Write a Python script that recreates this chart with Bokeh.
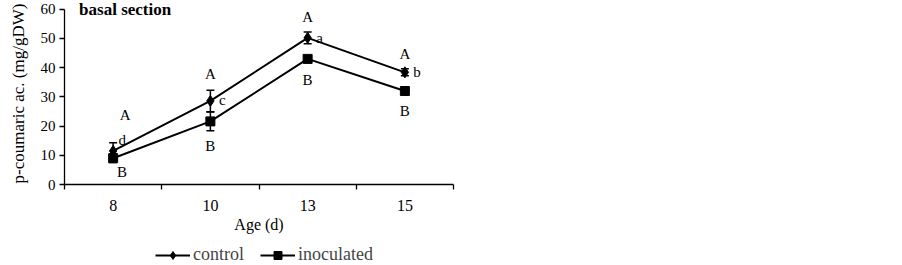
from bokeh.plotting import figure
from bokeh.layouts import column
from bokeh.models import (FixedTicker, Whisker, TeeHead, ColumnDataSource, Legend,
                          LegendItem, CustomJSTickFormatter, Range1d, Label)
from bokeh.core.properties import value
from bokeh.embed import file_html
from bokeh.resources import INLINE

# ---- data ----
ages = ["8", "10", "13", "15"]
control = [11.5, 28.6, 50.2, 38.4]
control_err = [2.8, 3.7, 2.0, 1.2]
inoculated = [9.0, 21.6, 43.0, 32.0]
inoculated_err = [1.5, 3.2, 1.0, 0.8]
upper_letters = ["A", "A", "A", "A"]
lower_letters = ["B", "B", "B", "B"]
age_letters = ["d", "c", "a", "b"]
series_names = ["control", "inoculated"]
y_ticks = [0, 10, 20, 30, 40, 50, 60]

# ---- label offsets (pixels) ----
upper_dx = [12, 0, 0, 0]
upper_dy = [-36, -27, -21, -18]
age_dx = [9, 12, 12, 12]
age_dy = [-11, -1, 0, 0]
lower_dx = [9, 0, 0, 0]
lower_dy = [14, 25, 21, 20]

FONT = "Liberation Serif"

xs = [i + 0.5 for i in range(len(ages))]
src_c = ColumnDataSource(dict(
    x=xs, y=control,
    upper=[v + e for v, e in zip(control, control_err)],
    lower=[v - e for v, e in zip(control, control_err)],
    ta=upper_letters, tb=age_letters,
    adx=upper_dx, ady=upper_dy, bdx=age_dx, bdy=age_dy))
src_i = ColumnDataSource(dict(
    x=xs, y=inoculated,
    upper=[v + e for v, e in zip(inoculated, inoculated_err)],
    lower=[v - e for v, e in zip(inoculated, inoculated_err)],
    tl=lower_letters, ldx=lower_dx, ldy=lower_dy))

y_max = y_ticks[-1]
p = figure(width=468, height=235, output_backend="svg", toolbar_location=None,
           x_range=Range1d(0, len(ages)), y_range=Range1d(0, y_max + 2.3),
           min_border_left=64, min_border_right=15, min_border_top=2, min_border_bottom=50)
p.outline_line_color = None
p.xgrid.visible = False
p.ygrid.visible = False
p.background_fill_color = None
p.border_fill_color = "white"

# axes
p.yaxis.ticker = FixedTicker(ticks=y_ticks)
p.yaxis.bounds = (0, y_max)
p.yaxis.major_tick_out = 5
p.yaxis.major_tick_in = 0
p.yaxis.minor_tick_out = 0
p.yaxis.minor_tick_in = 0
p.yaxis.axis_label = "p-coumaric ac. (mg/gDW)"
p.yaxis.axis_label_text_font = FONT
p.yaxis.axis_label_text_font_size = "17px"
p.yaxis.axis_label_text_font_style = "normal"
p.yaxis.axis_label_standoff = 10
p.yaxis.major_label_text_font = FONT
p.yaxis.major_label_text_font_size = "15px"
p.yaxis.major_label_standoff = 4

p.xaxis.ticker = FixedTicker(ticks=xs, minor_ticks=list(range(len(ages) + 1)))
p.xaxis.formatter = CustomJSTickFormatter(args=dict(labels=ages),
                                          code="return labels[Math.floor(tick)] || '';")
p.xaxis.major_tick_out = 0
p.xaxis.major_tick_in = 0
p.xaxis.minor_tick_out = 5
p.xaxis.minor_tick_in = 0
p.xaxis.axis_label = "Age (d)"
p.xaxis.axis_label_text_font = FONT
p.xaxis.axis_label_text_font_size = "16px"
p.xaxis.axis_label_text_font_style = "normal"
p.xaxis.axis_label_standoff = 2
p.xaxis.major_label_text_font = FONT
p.xaxis.major_label_text_font_size = "16px"
p.xaxis.major_label_standoff = 10

for ax in (p.xaxis, p.yaxis):
    ax.axis_line_color = "black"
    ax.axis_line_width = 1.3
    ax.major_tick_line_color = "black"
    ax.minor_tick_line_color = "black"
    ax.major_tick_line_width = 1.3
    ax.minor_tick_line_width = 1.3
    ax.major_label_text_color = "black"
    ax.axis_label_text_color = "black"

# error bars
for src in (src_c, src_i):
    w = Whisker(base="x", upper="upper", lower="lower", source=src,
                line_color="black", line_width=1.5,
                upper_head=TeeHead(size=8, line_color="black", line_width=1.5),
                lower_head=TeeHead(size=8, line_color="black", line_width=1.5))
    p.add_layout(w)

# lines and markers
p.line("x", "y", source=src_c, line_color="black", line_width=2)
p.scatter("x", "y", source=src_c, marker="diamond", size=11, color="black")
p.line("x", "y", source=src_i, line_color="black", line_width=2)
p.scatter("x", "y", source=src_i, marker="square", size=9, color="black")

# letters
tstyle = dict(text_font=value(FONT), text_font_size="15px", text_color="black",
              text_align="center", text_baseline="middle")
p.text("x", "y", text="ta", x_offset="adx", y_offset="ady", source=src_c, **tstyle)
p.text("x", "y", text="tb", x_offset="bdx", y_offset="bdy", source=src_c, **tstyle)
p.text("x", "y", text="tl", x_offset="ldx", y_offset="ldy", source=src_i, **tstyle)

# panel title
p.add_layout(Label(x=0.15, y=y_max, y_offset=0, text="basal section",
                   text_font=FONT, text_font_size="17px", text_font_style="bold",
                   text_color="black", text_align="left", text_baseline="middle"))

# ---- legend strip (its renderers lie outside this strip's ranges, only the key shows) ----
lg = figure(width=468, height=30, output_backend="svg", toolbar_location=None,
            x_range=Range1d(0, 1), y_range=Range1d(0, 1),
            min_border=0)
lg.axis.visible = False
lg.grid.visible = False
lg.outline_line_color = None
lg.background_fill_color = None
lg.border_fill_color = "white"
l1 = lg.line("x", "y", source=src_c, line_color="black", line_width=2)
m1 = lg.scatter("x", "y", source=src_c, marker="diamond", size=11, color="black")
l2 = lg.line("x", "y", source=src_i, line_color="black", line_width=2)
m2 = lg.scatter("x", "y", source=src_i, marker="square", size=9, color="black")
legend = Legend(items=[LegendItem(label=series_names[0], renderers=[l1, m1]),
                       LegendItem(label=series_names[1], renderers=[l2, m2])],
                orientation="horizontal", location=(91, 0),
                label_text_font=FONT, label_text_font_size="18px",
                glyph_width=35, glyph_height=20, label_standoff=3, spacing=16,
                padding=0, margin=0, border_line_color=None,
                background_fill_alpha=0)
lg.add_layout(legend)

open("out.html", "w").write(file_html(column(p, lg, spacing=0), INLINE))
